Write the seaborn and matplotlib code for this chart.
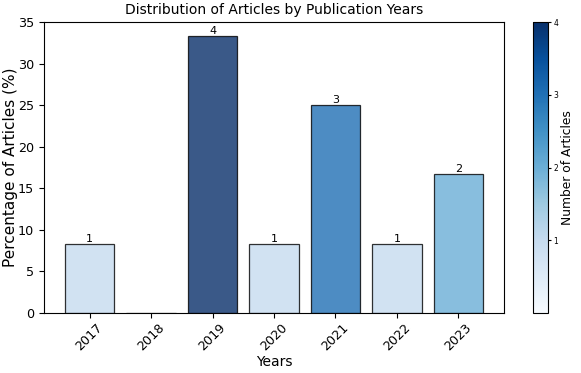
import matplotlib
matplotlib.use("Agg")
import matplotlib.pyplot as plt
import seaborn as sns
import numpy as np
from matplotlib.colors import Normalize
from matplotlib.cm import ScalarMappable

years = ["2017", "2018", "2019", "2020", "2021", "2022", "2023"]
counts = [1, 0, 4, 1, 3, 1, 2]
percentages = [8.33, 0.0, 33.33, 8.33, 25.0, 8.33, 16.67]
cbar_ticks = [1, 2, 3, 4]

W, H = 581, 373
fig = plt.figure(figsize=(W / 100, H / 100), dpi=100)
ax = fig.add_axes([44 / W, (H - 313) / H, 460 / W, 291 / H])
cax = fig.add_axes([533 / W, (H - 313) / H, 15 / W, 291 / H])

cmap = plt.cm.Blues
norm = Normalize(vmin=0, vmax=4)
colors = [cmap(norm(c)) for c in counts]

sns.barplot(x=years, y=percentages, hue=years, palette=colors, legend=False,
            saturation=1, alpha=0.8, edgecolor="black", linewidth=0.9,
            width=0.8, ax=ax)

for cont, c in zip(ax.containers, counts):
    ax.bar_label(cont, labels=[str(c) if c > 0 else ""], fontsize=8, padding=0)

ax.set_xlim(-0.74, 6.74)
ax.set_ylim(0, 35)
ax.set_title("Distribution of Articles by Publication Years", fontsize=10)
ax.set_xlabel("Years", fontsize=10, labelpad=1)
ax.set_ylabel("Percentage of Articles (%)", fontsize=11)
ax.yaxis.set_label_coords(-0.057, 0.5)
ax.tick_params(axis="x", labelsize=9.2, rotation=45, pad=2.5)
ax.tick_params(axis="y", labelsize=9.2)

sm = ScalarMappable(norm=norm, cmap=cmap)
sm.set_array([])
cbar = fig.colorbar(sm, cax=cax, ticks=cbar_ticks)
cbar.ax.tick_params(labelsize=5.5, length=2.5, pad=1.5)
cbar.set_label("Number of Articles", fontsize=8.8, labelpad=2)

fig.savefig("out.png", dpi=100)
